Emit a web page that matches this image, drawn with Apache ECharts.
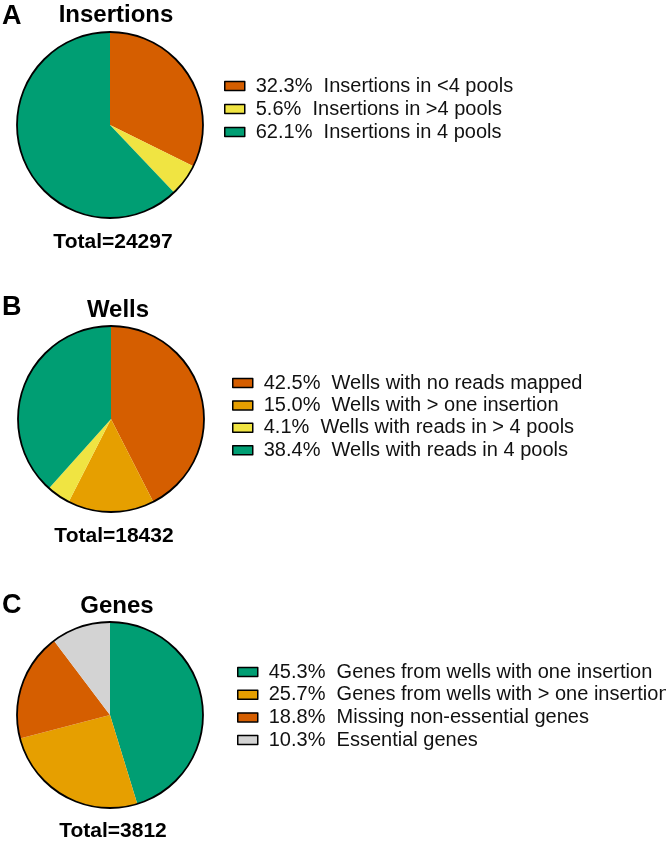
<!DOCTYPE html>
<html>
<head>
<meta charset="utf-8">
<script src="https://cdn.jsdelivr.net/npm/echarts@6/dist/echarts.min.js"></script>
<style>
html,body{margin:0;padding:0;background:#fff;}
#chart{width:666px;height:841px;}
</style>
</head>
<body>
<div id="chart"></div>
<script>
// Panel A: Insertions
const insLabels = ['Insertions in <4 pools', 'Insertions in >4 pools', 'Insertions in 4 pools'];
const insValues = [32.3, 5.6, 62.1];
const insColors = ['#D55E00', '#F0E442', '#009E73'];
const insTotal = 'Total=24297';

// Panel B: Wells
const wellLabels = ['Wells with no reads mapped', 'Wells with > one insertion', 'Wells with reads in > 4 pools', 'Wells with reads in 4 pools'];
const wellValues = [42.5, 15.0, 4.1, 38.4];
const wellColors = ['#D55E00', '#E69F00', '#F0E442', '#009E73'];
const wellTotal = 'Total=18432';

// Panel C: Genes
const geneLabels = ['Genes from wells with one insertion', 'Genes from wells with > one insertion', 'Missing non-essential genes', 'Essential genes'];
const geneValues = [45.3, 25.7, 18.8, 10.3];
const geneColors = ['#009E73', '#E69F00', '#D55E00', '#D3D3D3'];
const geneTotal = 'Total=3812';

const panels = [
  {letter:'A', title:'Insertions', labels:insLabels, values:insValues, colors:insColors, total:insTotal,
   cx:110, cy:125, titleX:116, titleY:15, letterY:14, totalY:242, legX:224, legY:76, gap:3},
  {letter:'B', title:'Wells', labels:wellLabels, values:wellValues, colors:wellColors, total:wellTotal,
   cx:111, cy:419, titleX:118, titleY:310, letterY:305, totalY:536, legX:232, legY:373, gap:2.4},
  {letter:'C', title:'Genes', labels:geneLabels, values:geneValues, colors:geneColors, total:geneTotal,
   cx:110, cy:715, titleX:117, titleY:606, letterY:603, totalY:831, legX:237, legY:662, gap:2.7}
];
const R = 93;
const FONT = 'Liberation Sans, Arial, Helvetica, sans-serif';

const titles = [], legends = [], series = [];
const fmtMap = {};
panels.forEach((p, i) => {
  titles.push({text:p.letter, left:2, top:p.letterY - 11, padding:0,
    textStyle:{fontFamily:FONT, fontWeight:'bold', fontSize:27, color:'#000', lineHeight:27}});
  titles.push({text:p.title, left:p.titleX, top:p.titleY - 12, padding:0, textAlign:'center',
    textStyle:{fontFamily:FONT, fontWeight:'bold', fontSize:24, color:'#000', lineHeight:24}});
  titles.push({text:p.total, left:p.cx + 3, top:p.totalY - 10.5, padding:0, textAlign:'center',
    textStyle:{fontFamily:FONT, fontWeight:'bold', fontSize:21, color:'#000', lineHeight:21}});
  p.labels.forEach((l, j) => { fmtMap[l] = p.values[j].toFixed(1) + '%  ' + l; });
  legends.push({
    orient:'vertical', left:p.legX, top:p.legY, padding:0, itemGap:p.gap,
    itemWidth:20, itemHeight:9, icon:'rect', selectedMode:false,
    data:p.labels,
    itemStyle:{borderColor:'#000', borderWidth:1.5},
    formatter: name => fmtMap[name],
    textStyle:{fontFamily:FONT, fontSize:20, color:'#111', lineHeight:20, padding:[0,0,0,6]}
  });
  series.push({
    type:'pie', center:[p.cx, p.cy], radius:[0, R], startAngle:90, clockwise:true,
    label:{show:false}, labelLine:{show:false}, silent:true, animation:false,
    itemStyle:{borderWidth:0},
    data:p.labels.map((l, j) => ({name:l, value:p.values[j], itemStyle:{color:p.colors[j]}}))
  });
  // outer outline ring
  series.push({
    type:'pie', center:[p.cx, p.cy], radius:[0, R], silent:true, animation:false,
    label:{show:false}, labelLine:{show:false}, legendHoverLink:false,
    itemStyle:{color:'rgba(0,0,0,0)', borderColor:'#000', borderWidth:1.8},
    data:[{name:'outline' + i, value:1}]
  });
});

const chart = echarts.init(document.getElementById('chart'), null, {renderer:'canvas'});
chart.setOption({
  backgroundColor:'#fff',
  animation:false,
  title:titles,
  legend:legends,
  series:series
});
</script>
</body>
</html>
